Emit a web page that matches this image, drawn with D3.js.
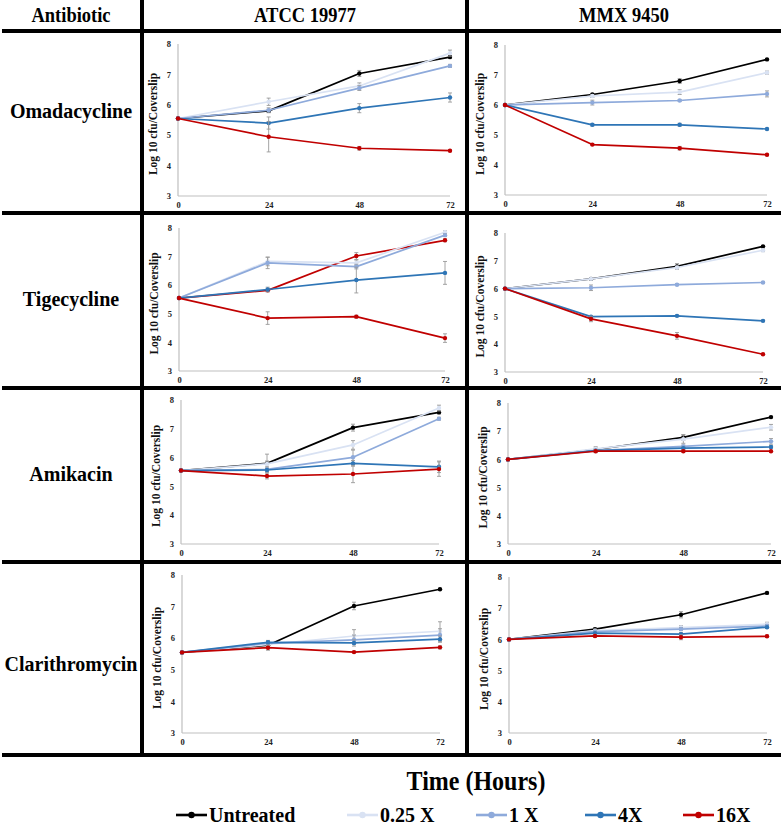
<!DOCTYPE html>
<html>
<head>
<meta charset="utf-8">
<script src="https://cdn.jsdelivr.net/npm/d3@7"></script>
<style>
  body { margin: 0; background: #fff; }
  text { font-family: "Liberation Serif", "Times New Roman", serif; font-weight: bold; }
</style>
</head>
<body>
<script>
// ---------------- DATA ----------------
const timepoints = [0, 24, 48, 72];
const xTickLabels = ["0", "24", "48", "72"];
const yTicks = [3, 4, 5, 6, 7, 8];
const antibiotics = ["Omadacycline", "Tigecycline", "Amikacin", "Clarithromycin"];
const strains = ["ATCC 19977", "MMX 9450"];
const seriesNames = ["Untreated", "0.25 X", "1 X", "4X", "16X"];
const seriesColors = ["#000000", "#d9e2f3", "#8eaadb", "#2e75b6", "#c00000"];
const headerFirst = "Antibiotic";
const xAxisTitle = "Time (Hours)";
const yAxisTitle = "Log 10 cfu/Coverslip";

// series order: Untreated, 0.25 X, 1 X, 4X, 16X
const omaATCC = [
  [5.55, 5.80, 7.03, 7.57],
  [5.55, 6.10, 6.62, 7.70],
  [5.55, 5.82, 6.55, 7.28],
  [5.55, 5.40, 5.89, 6.24],
  [5.55, 4.95, 4.57, 4.49]
];
const omaATCCErr = [
  [0, 0.05, 0.10, 0.05],
  [0, 0.12, 0.10, 0.10],
  [0, 0.08, 0.08, 0.05],
  [0, 0.20, 0.15, 0.15],
  [0, 0.50, 0.06, 0.03]
];
const omaMMX = [
  [6.0, 6.35, 6.80, 7.52],
  [6.0, 6.30, 6.43, 7.08],
  [6.0, 6.08, 6.15, 6.37],
  [6.0, 5.34, 5.34, 5.20],
  [6.0, 4.68, 4.56, 4.34]
];
const omaMMXErr = [
  [0, 0.03, 0.08, 0.03],
  [0, 0.05, 0.08, 0.05],
  [0, 0.08, 0.03, 0.10],
  [0, 0.04, 0.05, 0.03],
  [0, 0.03, 0.06, 0.03]
];
const tigATCC = [
  [5.55, 5.82, 7.02, 7.57],
  [5.55, 6.83, 6.78, 7.85],
  [5.55, 6.78, 6.65, 7.75],
  [5.55, 5.85, 6.18, 6.43],
  [5.55, 4.85, 4.90, 4.15]
];
const tigATCCErr = [
  [0, 0.05, 0.12, 0.05],
  [0, 0.15, 0.10, 0.05],
  [0, 0.20, 0.08, 0.05],
  [0, 0.08, 0.45, 0.40],
  [0, 0.22, 0.05, 0.15]
];
const tigMMX = [
  [6.0, 6.35, 6.80, 7.52],
  [6.0, 6.35, 6.76, 7.38],
  [6.0, 6.03, 6.14, 6.22],
  [6.0, 4.99, 5.02, 4.84],
  [6.0, 4.91, 4.30, 3.64]
];
const tigMMXErr = [
  [0, 0.03, 0.10, 0.03],
  [0, 0.03, 0.05, 0.05],
  [0, 0.10, 0.03, 0.03],
  [0, 0.04, 0.03, 0.03],
  [0, 0.10, 0.12, 0.03]
];
const amiATCC = [
  [5.55, 5.80, 7.04, 7.57],
  [5.55, 5.78, 6.44, 7.72],
  [5.55, 5.59, 6.01, 7.35],
  [5.55, 5.57, 5.80, 5.68],
  [5.55, 5.36, 5.43, 5.60]
];
const amiATCCErr = [
  [0, 0.32, 0.12, 0.05],
  [0, 0.10, 0.15, 0.10],
  [0, 0.05, 0.25, 0.05],
  [0, 0.05, 0.10, 0.20],
  [0, 0.10, 0.30, 0.25]
];
const amiMMX = [
  [6.0, 6.35, 6.78, 7.50],
  [6.0, 6.37, 6.72, 7.14],
  [6.0, 6.31, 6.46, 6.64],
  [6.0, 6.31, 6.40, 6.44],
  [6.0, 6.29, 6.29, 6.29]
];
const amiMMXErr = [
  [0, 0.05, 0.10, 0.03],
  [0, 0.08, 0.15, 0.10],
  [0, 0.05, 0.05, 0.10],
  [0, 0.04, 0.05, 0.05],
  [0, 0.05, 0.04, 0.03]
];
const claATCC = [
  [5.55, 5.78, 7.02, 7.55],
  [5.55, 5.80, 6.07, 6.22],
  [5.55, 5.84, 5.95, 6.10],
  [5.55, 5.87, 5.85, 5.97],
  [5.55, 5.70, 5.56, 5.71]
];
const claATCCErr = [
  [0, 0.05, 0.12, 0.03],
  [0, 0.08, 0.20, 0.30],
  [0, 0.08, 0.15, 0.20],
  [0, 0.06, 0.10, 0.10],
  [0, 0.08, 0.03, 0.05]
];
const claMMX = [
  [6.0, 6.33, 6.79, 7.49],
  [6.0, 6.28, 6.38, 6.49],
  [6.0, 6.25, 6.33, 6.43],
  [6.0, 6.20, 6.17, 6.39],
  [6.0, 6.11, 6.07, 6.10]
];
const claMMXErr = [
  [0, 0.04, 0.10, 0.03],
  [0, 0.05, 0.06, 0.06],
  [0, 0.05, 0.05, 0.05],
  [0, 0.05, 0.05, 0.04],
  [0, 0.05, 0.08, 0.04]
];
// In the Tigecycline / ATCC 19977 panel the untreated curve is drawn in red
const tigATCCUntreatedColor = "#c00000";

// ---------------- LAYOUT ----------------
const W = 783, H = 827;
const svg = d3.select("body").append("svg").attr("width", W).attr("height", H);

const panels = [
  { vals: omaATCC, err: omaATCCErr, x: [178, 450], y: [196, 44] },
  { vals: omaMMX,  err: omaMMXErr,  x: [505, 767], y: [195, 45] },
  { vals: tigATCC, err: tigATCCErr, x: [179, 445], y: [371, 228], colors: [tigATCCUntreatedColor] },
  { vals: tigMMX,  err: tigMMXErr,  x: [505, 763], y: [372, 233] },
  { vals: amiATCC, err: amiATCCErr, x: [181, 439], y: [544, 400] },
  { vals: amiMMX,  err: amiMMXErr,  x: [508, 771], y: [544, 403] },
  { vals: claATCC, err: claATCCErr, x: [182, 440], y: [733, 575] },
  { vals: claMMX,  err: claMMXErr,  x: [509, 767], y: [733, 577] }
];

panels.forEach((p, pi) => {
  const x = d3.scaleLinear().domain([0, 72]).range(p.x);
  const y = d3.scaleLinear().domain([3, 8]).range(p.y);
  const g = svg.append("g");

  // axes lines
  g.append("line").attr("x1", x(0)).attr("x2", x(0)).attr("y1", y(3)).attr("y2", y(8))
    .attr("stroke", "#bfbfbf").attr("stroke-width", 1.2);
  g.append("line").attr("x1", x(0)).attr("x2", x(72)).attr("y1", y(3)).attr("y2", y(3))
    .attr("stroke", "#bfbfbf").attr("stroke-width", 1.2);

  // tick labels via d3 axes
  const yAxis = d3.axisLeft(y).tickValues(yTicks).tickSize(0).tickPadding(7).tickFormat(d3.format("d"));
  const ya = g.append("g").attr("transform", `translate(${x(0)},0)`).call(yAxis);
  ya.select(".domain").remove();
  ya.selectAll("text").attr("font-size", 8.5).attr("fill", "#222")
    .style("font-family", "'Liberation Serif', serif").style("font-weight", "bold");

  const xAxis = d3.axisBottom(x).tickValues(timepoints).tickSize(0).tickPadding(6)
    .tickFormat((d, i) => xTickLabels[i]);
  const xa = g.append("g").attr("transform", `translate(0,${y(3)})`).call(xAxis);
  xa.select(".domain").remove();
  xa.selectAll("text").attr("font-size", 8.5).attr("fill", "#222")
    .style("font-family", "'Liberation Serif', serif").style("font-weight", "bold");

  // y-axis title
  const cx = x(0) - 21, cy = (y(3) + y(8)) / 2 + 4;
  g.append("text").attr("transform", `translate(${cx},${cy}) rotate(-90)`)
    .attr("text-anchor", "middle").attr("font-size", 11.5).attr("fill", "#111")
    .text(yAxisTitle);

  const line = d3.line().x((d, i) => x(timepoints[i])).y(d => y(d));

  p.vals.forEach((s, si) => {
    const col = (p.colors && p.colors[si]) || seriesColors[si];
    // error bars
    s.forEach((v, i) => {
      const e = p.err[si][i];
      if (e <= 0) return;
      const xx = x(timepoints[i]);
      g.append("line").attr("x1", xx).attr("x2", xx).attr("y1", y(v - e)).attr("y2", y(v + e))
        .attr("stroke", "#9a9a9a").attr("stroke-width", 0.9);
      [v - e, v + e].forEach(vv => {
        g.append("line").attr("x1", xx - 2).attr("x2", xx + 2).attr("y1", y(vv)).attr("y2", y(vv))
          .attr("stroke", "#9a9a9a").attr("stroke-width", 0.9);
      });
    });
    g.append("path").datum(s).attr("d", line).attr("fill", "none")
      .attr("stroke", col).attr("stroke-width", 1.7).attr("stroke-linejoin", "round");
    g.selectAll(null).data(s).enter().append("circle")
      .attr("cx", (d, i) => x(timepoints[i])).attr("cy", d => y(d)).attr("r", 2.2)
      .attr("fill", col);
  });
});

// ---------------- TABLE GRID ----------------
const grid = svg.append("g").attr("stroke", "#000").attr("stroke-width", 4);
[31, 213, 388, 562, 755].forEach(yy => {
  grid.append("line").attr("x1", 2).attr("x2", 781).attr("y1", yy).attr("y2", yy);
});
[142, 467].forEach(xx => {
  grid.append("line").attr("x1", xx).attr("x2", xx).attr("y1", 0).attr("y2", 757);
});

// headers
const headers = [headerFirst].concat(strains);
const headerX = [71, 305, 624];
headers.forEach((h, i) => {
  svg.append("text").attr("transform", `translate(${headerX[i]},22) scale(1,1.12)`)
    .attr("text-anchor", "middle")
    .attr("font-size", 18.5).attr("fill", "#000").text(h);
});

// row labels
const rowY = [111, 299, 474, 664];
antibiotics.forEach((a, i) => {
  svg.append("text").attr("x", 71).attr("y", rowY[i] + 7).attr("text-anchor", "middle")
    .attr("font-size", 20).attr("fill", "#000").text(a);
});

// x-axis title
svg.append("text").attr("transform", "translate(476,790) scale(1,1.1)").attr("text-anchor", "middle")
  .attr("font-size", 24).attr("fill", "#000").text(xAxisTitle);

// legend
const legX = [176, 347, 476, 585, 683];
const leg = svg.append("g");
seriesNames.forEach((n, i) => {
  const lx = legX[i], ly = 815;
  leg.append("line").attr("x1", lx).attr("x2", lx + 31).attr("y1", ly).attr("y2", ly)
    .attr("stroke", seriesColors[i]).attr("stroke-width", 2.6);
  leg.append("circle").attr("cx", lx + 15.5).attr("cy", ly).attr("r", 3.2).attr("fill", seriesColors[i]);
  leg.append("text").attr("x", lx + 33).attr("y", ly + 7).attr("font-size", 20).attr("fill", "#000").text(n);
});
</script>
</body>
</html>
